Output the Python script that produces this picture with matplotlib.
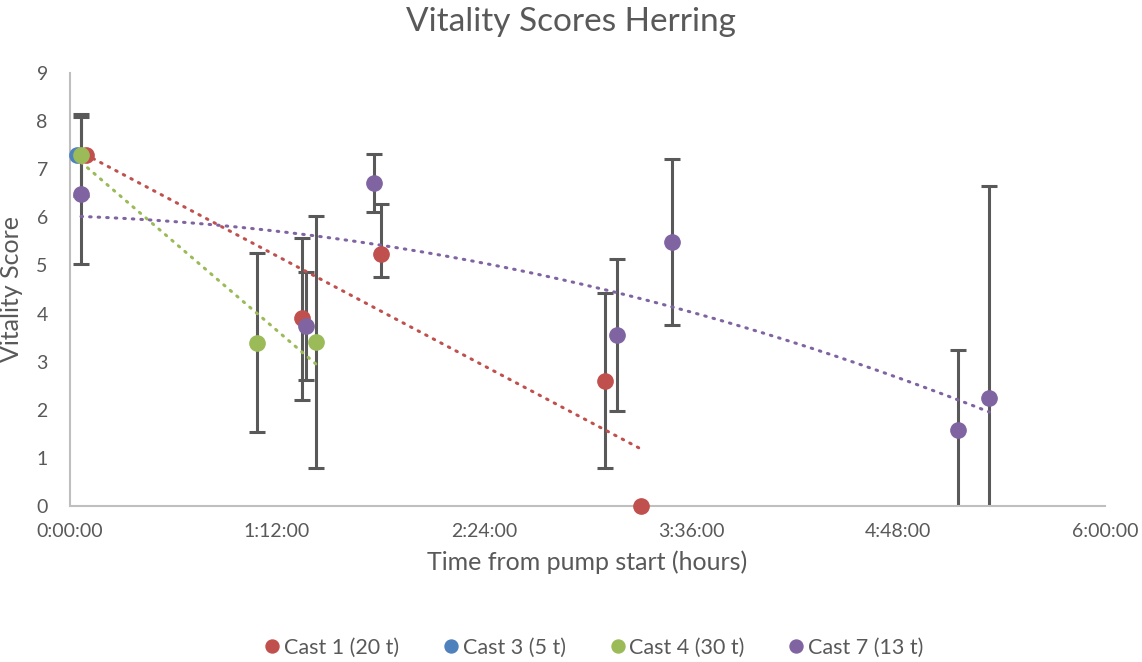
import numpy as np
import matplotlib
matplotlib.use("Agg")
import matplotlib.pyplot as plt
from matplotlib.ticker import FuncFormatter

# ---- data (time in hours) ----
cast1_time = [0.090, 1.345, 1.80, 3.10, 3.31]
cast1_score = [7.30, 3.91, 5.24, 2.60, 0.00]
cast1_err_low = [0.00, 1.70, 0.47, 1.82, 0.00]
cast1_err_high = [0.00, 1.67, 1.03, 1.82, 0.00]

cast3_time = [0.038]
cast3_score = [7.30]
cast3_err_low = [0.00]
cast3_err_high = [0.00]

cast4_time = [0.064, 1.084, 1.426]
cast4_score = [7.30, 3.39, 3.41]
cast4_err_low = [0.85, 1.86, 2.62]
cast4_err_high = [0.85, 1.86, 2.62]

cast7_time = [0.064, 1.368, 1.762, 3.17, 3.49, 5.15, 5.33]
cast7_score = [6.49, 3.74, 6.72, 3.56, 5.49, 1.58, 2.25]
cast7_err_low = [1.47, 1.13, 0.60, 1.58, 1.73, 1.66, 4.40]
cast7_err_high = [1.60, 1.13, 0.60, 1.58, 1.73, 1.66, 4.40]

series_labels = ["Cast 1 (20 t)", "Cast 3 (5 t)", "Cast 4 (30 t)", "Cast 7 (13 t)"]
x_ticks = [0, 1.2, 2.4, 3.6, 4.8, 6.0]
y_ticks = list(range(0, 10))

colors = ["#C0504D", "#4F81BD", "#9BBB59", "#8064A2"]
grey = "#595959"

plt.rcParams['font.family'] = ['Lato', 'DejaVu Sans']

fig = plt.figure(figsize=(11.42, 6.62), dpi=100)
ax = fig.add_axes([70/1142, 156/662, 1035/1142, 433/662])

series = [
    (cast1_time, cast1_score, cast1_err_low, cast1_err_high, 1),
    (cast3_time, cast3_score, cast3_err_low, cast3_err_high, None),
    (cast4_time, cast4_score, cast4_err_low, cast4_err_high, 1),
    (cast7_time, cast7_score, cast7_err_low, cast7_err_high, 2),
]

handles = []
for i, (t, s, el, eh, deg) in enumerate(series):
    tt = [x for x, a, b in zip(t, el, eh) if a > 0 or b > 0]
    ss = [y for y, a, b in zip(s, el, eh) if a > 0 or b > 0]
    ll = [a for a, b in zip(el, eh) if a > 0 or b > 0]
    hh = [b for a, b in zip(el, eh) if a > 0 or b > 0]
    if tt:
        ax.errorbar(tt, ss, yerr=[ll, hh], fmt="none", ecolor=grey,
                    elinewidth=2.2, capsize=5.5, capthick=2.2, zorder=2)
    if deg is not None:
        coef = np.polyfit(t, s, deg)
        xs = np.linspace(min(t), max(t), 200)
        ax.plot(xs, np.polyval(coef, xs), color=colors[i], lw=2.2,
                linestyle=(0, (0.5, 2.3)), dash_capstyle="round", zorder=3)

for i, (t, s, el, eh, deg) in enumerate(series):
    h, = ax.plot(t, s, "o", color=colors[i], ms=11, mec=colors[i],
                 clip_on=False, zorder=4 + i, label=series_labels[i])
    handles.append(h)

ax.set_xlim(0, 6)
ax.set_ylim(0, 9)
ax.set_xticks(x_ticks)
ax.set_yticks(y_ticks)


def fmt_time(v, pos):
    total = int(round(v * 3600))
    h = total // 3600
    m = (total % 3600) // 60
    s = total % 60
    return f"{h}:{m:02d}:{s:02d}"


ax.xaxis.set_major_formatter(FuncFormatter(fmt_time))
ax.tick_params(length=0, labelsize=14, labelcolor=grey, pad=12)
ax.tick_params(axis="y", pad=16)

for sp in ["top", "right"]:
    ax.spines[sp].set_visible(False)
for sp in ["left", "bottom"]:
    ax.spines[sp].set_color("#BFBFBF")
    ax.spines[sp].set_linewidth(1.5)

ax.set_xlabel("Time from pump start (hours)", fontsize=18, color=grey, labelpad=8)
ax.set_ylabel("Vitality Score", fontsize=18, color=grey, labelpad=10)
fig.text(0.5, 1 - 22/662, "Vitality Scores Herring", ha="center", va="center",
         fontsize=24, color=grey)

fig.legend(handles=handles, labels=series_labels, loc="center",
           bbox_to_anchor=(0.519, 1 - 648/662), ncol=4, frameon=False,
           fontsize=15.5, labelcolor=grey, handletextpad=0.05, columnspacing=1.9,
           markerscale=0.85, handlelength=1.0)

fig.savefig("out.png", dpi=100)
